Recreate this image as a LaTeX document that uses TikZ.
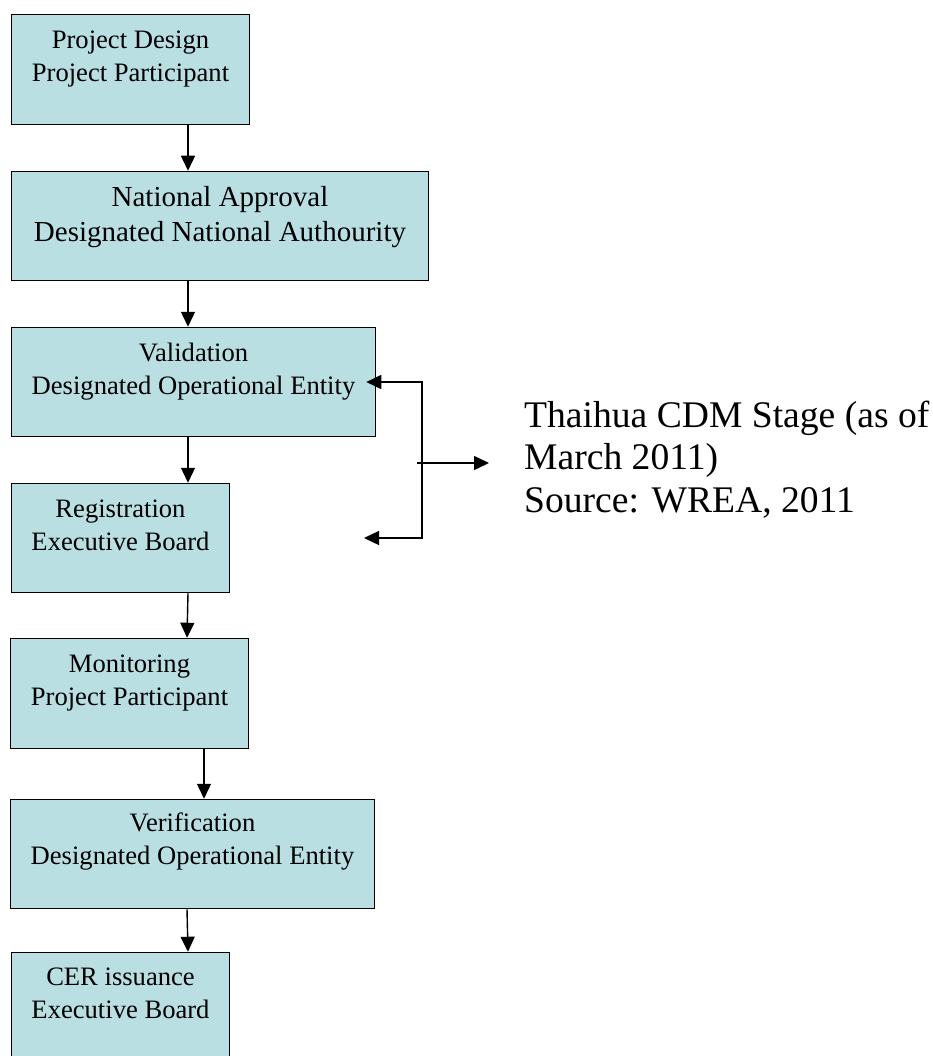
\documentclass[tikz,border=0pt]{standalone}
\usepackage{fontspec}
\setmainfont{Liberation Serif}
\usetikzlibrary{arrows.meta}
\definecolor{boxfill}{RGB}{185,223,227}
\tikzset{
  stagebox/.style={draw=black, line width=1.5pt, fill=boxfill, inner sep=0pt, rectangle},
  stagetext/.style={align=center, inner sep=0pt, anchor=base, font=\fontsize{26.6}{32.7}\selectfont},
  bigtext/.style={stagetext, font=\fontsize{29}{34.5}\selectfont},
  notetext/.style={align=left, inner sep=0pt, anchor=base west, font=\fontsize{37.6}{42.5}\selectfont},
  arr/.style={line width=1.4pt, -{Triangle[length=15pt,width=14pt]}},
  dblarr/.style={line width=1.4pt, {Triangle[length=15pt,width=14pt]}-{Triangle[length=15pt,width=14pt]}}
}
\begin{document}
\begin{tikzpicture}[x=1pt,y=-1pt]
\useasboundingbox (0,0) rectangle (932,1056);
% boxes
\node[stagebox, minimum width=238pt, minimum height=110pt] (b1) at (130.5,69.5) {};
\node[stagebox, minimum width=417pt, minimum height=109pt] (b2) at (220,226) {};
\node[stagebox, minimum width=364pt, minimum height=109pt] (b3) at (193.5,382) {};
\node[stagebox, minimum width=218pt, minimum height=109pt] (b4) at (120.5,538) {};
\node[stagebox, minimum width=238pt, minimum height=110pt] (b5) at (129.5,693.5) {};
\node[stagebox, minimum width=364pt, minimum height=109pt] (b6) at (192.5,854) {};
\node[stagebox, minimum width=218pt, minimum height=110pt] (b7) at (120.5,1007.5) {};
% texts (anchor = baseline of the last line)
\node[stagetext] (t1) at (130.5,81.5) {Project Design\\Project Participant};
\node[bigtext] (t2) at (220,241.5) {National Approval\\Designated National Authourity};
\node[stagetext] (t3) at (193.5,394.5) {Validation\\Designated Operational Entity};
\node[stagetext] (t4) at (120.5,550.5) {Registration\\Executive Board};
\node[stagetext] (t5) at (129.5,705.5) {Monitoring\\Project Participant};
\node[stagetext] (t6) at (192.5,864.5) {Verification\\Designated Operational Entity};
\node[stagetext] (t7) at (120.5,1018) {CER issuance\\Executive Board};
% flow arrows
\draw[arr] (b1.south -| 188,0) -- (b2.north -| 188,0);
\draw[arr] (b2.south -| 188,0) -- (b3.north -| 188,0);
\draw[arr] (b3.south -| 188,0) -- (b4.north -| 188,0);
\draw[arr] (b4.south -| 188,0) -- (b5.north -| 187,0);
\draw[arr] (b5.south -| 204,0) -- (b6.north -| 204,0);
\draw[arr] (b6.south -| 187,0) -- (b7.north -| 188,0);
% feedback bracket
\coordinate (fbTop) at (422,382);
\coordinate (fbBot) at (422,538);
\coordinate (retTip) at (364,538);
\coordinate (fbMid) at (417,463);
\coordinate (noteTip) at (489,463);
\draw[dblarr] ([xshift=-10pt]b3.east) -- (fbTop) -- (fbBot) -- (retTip);
\draw[arr] (fbMid) -- (noteTip);
% note
\node[notetext] (note) at (524,512) {Thaihua CDM Stage (as of\\March 2011)\\Source: WREA, 2011};
\end{tikzpicture}
\end{document}
